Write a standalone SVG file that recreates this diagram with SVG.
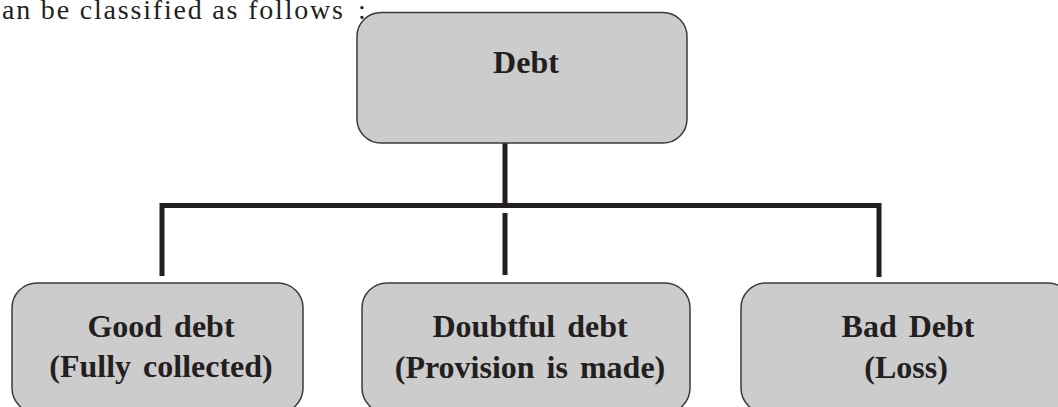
<svg xmlns="http://www.w3.org/2000/svg" width="1058" height="407" viewBox="0 0 1058 407">
<style>
.box{fill:#cccccc;stroke:#3a3a3a;stroke-width:1.5}
.lbl{font-family:"Liberation Serif","Times New Roman",serif;font-weight:bold;font-size:32px;fill:#231f20;text-anchor:middle}
.intro{font-family:"Liberation Serif","Times New Roman",serif;font-size:28px;fill:#231f20}
.conn{stroke:#231f20;stroke-width:5;fill:none}
</style>
<rect width="1058" height="407" fill="#ffffff"/>
<text class="intro" x="2" y="19" textLength="341" lengthAdjust="spacing">an be classified as follows</text>
<text class="intro" x="358" y="19">:</text>
<g id="connectors">
<line class="conn" x1="505" y1="143" x2="505" y2="206"/>
<polyline class="conn" points="162,276 162,205.5 879,205.5 879,277"/>
<line class="conn" x1="505" y1="213" x2="505" y2="275"/>
</g>
<g id="debt">
<rect class="box" x="357" y="12.5" width="330" height="130.5" rx="24"/>
<text class="lbl" x="526" y="73">Debt</text>
</g>
<g id="good">
<rect class="box" x="12" y="283" width="291" height="130" rx="25"/>
<text class="lbl" x="161" y="337" word-spacing="4">Good debt</text>
<text class="lbl" x="161" y="377" word-spacing="4">(Fully collected)</text>
</g>
<g id="doubtful">
<rect class="box" x="362" y="283" width="328" height="130" rx="25"/>
<text class="lbl" x="530" y="337" word-spacing="4">Doubtful debt</text>
<text class="lbl" x="530" y="378" word-spacing="4">(Provision is made)</text>
</g>
<g id="bad">
<rect class="box" x="741" y="283" width="332" height="130" rx="25"/>
<text class="lbl" x="908" y="337" word-spacing="4">Bad Debt</text>
<text class="lbl" x="906" y="378">(Loss)</text>
</g>
</svg>
